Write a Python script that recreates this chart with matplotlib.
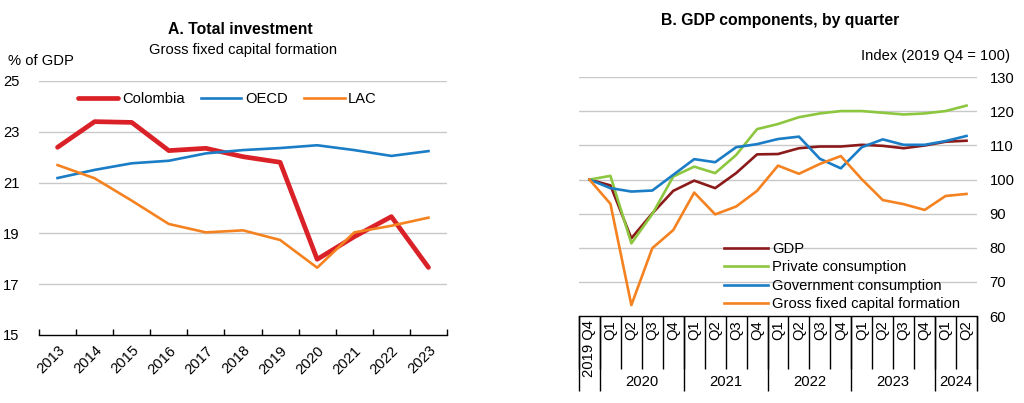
import matplotlib
matplotlib.use("Agg")
import matplotlib.pyplot as plt
import numpy as np

plt.rcParams['font.family'] = ['Liberation Sans', 'DejaVu Sans']

# ---------------- Data ----------------
years = ["2013", "2014", "2015", "2016", "2017", "2018", "2019", "2020", "2021", "2022", "2023"]
colombia = [22.39, 23.40, 23.37, 22.26, 22.35, 22.02, 21.80, 17.98, 18.87, 19.66, 17.66]
oecd = [21.18, 21.50, 21.76, 21.86, 22.15, 22.28, 22.36, 22.47, 22.28, 22.05, 22.24]
lac = [21.69, 21.17, 20.29, 19.37, 19.04, 19.12, 18.74, 17.65, 19.04, 19.30, 19.62]

quarters = ["2019 Q4", "Q1", "Q2", "Q3", "Q4", "Q1", "Q2", "Q3", "Q4",
            "Q1", "Q2", "Q3", "Q4", "Q1", "Q2", "Q3", "Q4", "Q1", "Q2"]
year_groups = ["2020", "2021", "2022", "2023", "2024"]
year_group_sizes = [4, 4, 4, 4, 2]
gdp = [100.0, 98.3, 82.8, 90.1, 96.7, 99.7, 97.5, 101.9, 107.4, 107.5, 109.2, 109.7,
       109.7, 110.2, 109.9, 109.2, 110.0, 111.1, 111.4]
private_cons = [100.0, 101.1, 81.3, 89.9, 100.9, 103.8, 101.9, 107.2, 114.8, 116.3, 118.3,
                119.4, 120.1, 120.1, 119.6, 119.1, 119.4, 120.1, 121.7]
gov_cons = [100.0, 97.5, 96.5, 96.8, 101.4, 106.0, 105.1, 109.5, 110.4, 111.9, 112.6,
            106.1, 103.3, 109.5, 111.8, 110.2, 110.2, 111.3, 112.8]
gfcf = [100.0, 92.9, 63.2, 79.9, 85.2, 96.2, 89.8, 92.1, 96.7, 104.1, 101.7, 104.6,
        106.9, 100.1, 94.0, 92.8, 91.1, 95.2, 95.8]

# ---------------- Figure ----------------
fig = plt.figure(figsize=(10.24, 4.03), dpi=100)
FS = 10.6
FST = 11.3
grid_c = "#C8C8C8"

# ----- Panel A -----
ax1 = fig.add_axes([39/1024, 1-335/403, 408/1024, 254/403])
x1 = np.arange(len(years))
ax1.plot(x1, colombia, color="#DA2128", lw=3.4, label="Colombia", solid_capstyle="round")
ax1.plot(x1, oecd, color="#1A7DC6", lw=1.9, label="OECD")
ax1.plot(x1, lac, color="#F58220", lw=1.9, label="LAC")
ax1.set_xlim(-0.5, len(years)-0.5)
ax1.set_ylim(15, 25)
ax1.set_yticks([15, 17, 19, 21, 23, 25])
ax1.set_xticks(x1)
ax1.set_xticklabels(years, rotation=45, ha="right", rotation_mode="anchor", fontsize=FS)
ax1.set_xticks(np.arange(-0.5, len(years), 1.0), minor=True)
ax1.tick_params(axis="x", which="major", length=0, pad=6)
ax1.tick_params(axis="x", which="minor", length=4, direction="in", width=1)
ax1.tick_params(axis="y", length=0, pad=14, labelsize=FS)
for v in [17, 19, 21, 23, 25]:
    ax1.axhline(v, color=grid_c, lw=1, zorder=0)
for s in ["top", "right", "left"]:
    ax1.spines[s].set_visible(False)
ax1.spines["bottom"].set_linewidth(1)
leg1 = ax1.legend(loc="upper left", bbox_to_anchor=(0.063, 1.01), ncol=3, frameon=False,
                  fontsize=FS, handlelength=2.75, handletextpad=0.25, columnspacing=1.1)
fig.text(240/1024, 1-29/403, "A. Total investment", ha="center", va="center",
         fontsize=FST, fontweight="bold")
fig.text(243/1024, 1-50/403, "Gross fixed capital formation", ha="center", va="center",
         fontsize=FS)
fig.text(8/1024, 1-61/403, "% of GDP", ha="left", va="center", fontsize=FS)

# ----- Panel B -----
ax2 = fig.add_axes([579/1024, 1-316/403, 398/1024, 238.7/403])
x2 = np.arange(len(quarters))
ax2.plot(x2, gdp, color="#8B1A1A", lw=1.9, label="GDP")
ax2.plot(x2, private_cons, color="#8DC63F", lw=1.9, label="Private consumption")
ax2.plot(x2, gov_cons, color="#1A7DC6", lw=1.9, label="Government consumption")
ax2.plot(x2, gfcf, color="#F58220", lw=1.9, label="Gross fixed capital formation")
ax2.set_xlim(-0.5, len(quarters)-0.5)
ax2.set_ylim(60, 130)
ax2.yaxis.tick_right()
ax2.set_yticks(np.arange(60, 131, 10))
ax2.tick_params(axis="y", length=0, pad=9, labelsize=FS)
for v in range(70, 131, 10):
    ax2.axhline(v, color=grid_c, lw=1, zorder=0)
for s in ["top", "right", "left"]:
    ax2.spines[s].set_visible(False)
ax2.spines["bottom"].set_linewidth(1)
ax2.set_xticks(x2)
ax2.set_xticklabels(quarters, rotation=90, ha="center", va="top", fontsize=FS)
ax2.tick_params(axis="x", which="major", length=0, pad=3)
bounds = np.arange(-0.5, len(quarters), 1.0)
ax2.set_xticks(bounds, minor=True)
ax2.tick_params(axis="x", which="minor", length=38, width=1, direction="out")
# year separators (long) and year labels
trans = ax2.get_xaxis_transform()
edges = [-0.5, 0.5]
pos = 0.5
for n in year_group_sizes:
    pos += n
    edges.append(pos)
ax2.vlines(edges, -0.315, 0, transform=trans, colors="black", lw=1, clip_on=False)
start = 0.5
for lab, n in zip(year_groups, year_group_sizes):
    ax2.text(start + n/2, -0.278, lab, transform=trans, ha="center", va="center", fontsize=FS)
    start += n
ax2.legend(loc="lower left", bbox_to_anchor=(0.33, -0.035), frameon=False, fontsize=FS,
           handlelength=3.0, handletextpad=0.3, labelspacing=0.3)
fig.text(780/1024, 1-20/403, "B. GDP components, by quarter", ha="center", va="center",
         fontsize=FST, fontweight="bold")
fig.text(1010/1024, 1-56/403, "Index (2019 Q4 = 100)", ha="right", va="center", fontsize=FS)

fig.savefig("out.png", dpi=100)
